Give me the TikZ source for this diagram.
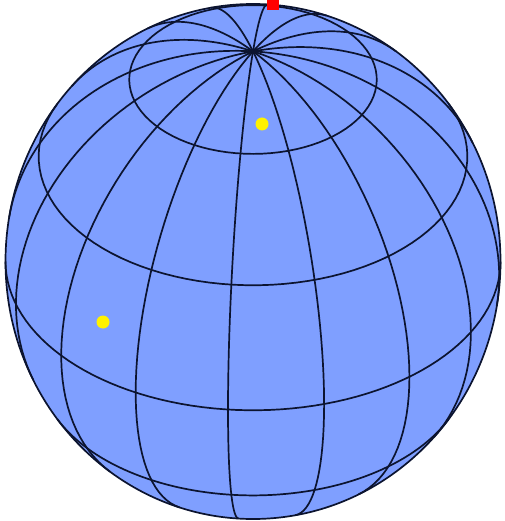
\documentclass[tikz,border=0pt]{standalone}
\usepackage{amsmath}
\usepackage{tikz}
\definecolor{globeblue}{HTML}{7F9FFF}
\definecolor{gridink}{HTML}{0C1430}
\newcommand{\Elev}{35.3}
\newcommand{\LonZero}{-5.8}

\begin{document}
\begin{tikzpicture}[x=1pt, y=-1pt,
  gridline/.style={draw=gridink, line width=1.7pt, line join=round},
  dot/.style={circle, fill=yellow, inner sep=0pt, minimum size=13pt},
  declare function={
    gx(\la,\lo)=253+247.5*cos(\la)*sin(\lo);
    gy(\la,\lo)=261.5-257.5*(sin(\la)*cos(\Elev)-cos(\la)*cos(\lo)*sin(\Elev));
  }]
  \useasboundingbox (0,0) rectangle (504,521);
  \draw[fill=globeblue, gridline] (253,261.5) ellipse [x radius=247.5, y radius=257.5];
  % parallels
  \draw[gridline] plot[domain=0:360, samples=90, variable=\t] ({gx(60,\t)},{gy(60,\t)});
  \foreach \la/\lim in {30/114.1, 0/90, -30/65.9}
    \draw[gridline] plot[domain=-\lim:\lim, samples=70, variable=\t] ({gx(\la,\t)},{gy(\la,\t)});
  % meridians
  \foreach \k in {0,...,15} {
    \pgfmathsetmacro{\lon}{\LonZero+22.5*\k}
    \pgfmathsetmacro{\latstart}{atan(-cos(\lon)/tan(\Elev))}
    \draw[gridline] plot[domain=\latstart:90, samples=50, variable=\t] ({gx(\t,\lon)},{gy(\t,\lon)});
  }
  \node[dot] (dota) at (262,124) {};
  \node[dot] (dotb) at (103,322) {};
  \node[fill=red, inner sep=0pt, minimum width=12pt, minimum height=10pt] (tip) at (273,5) {};
\end{tikzpicture}
\end{document}
